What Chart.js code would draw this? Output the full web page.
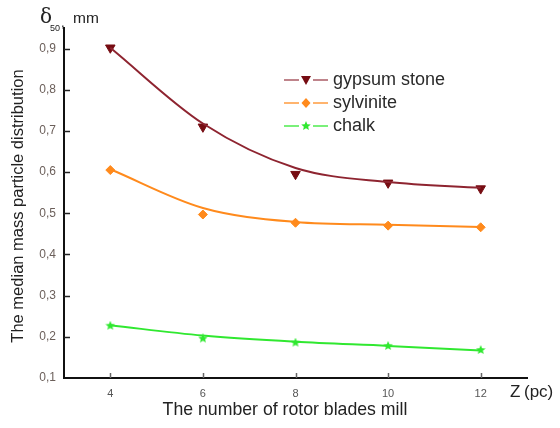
<!DOCTYPE html>
<html>
<head>
<meta charset="utf-8">
<script src="https://cdn.jsdelivr.net/npm/chart.js@4"></script>
<style>
    html, body { margin: 0; padding: 0; background: #fff; }
    #wrap { width: 560px; height: 428px; position: relative; }
</style>
</head>
<body>
<div id="wrap"><canvas id="bladesChart"></canvas></div>
<script>
// number of rotor blades Z
const blades = [4, 6, 8, 10, 12];

// measured median size d50, mm
const gypsumPoints = [0.902, 0.71, 0.595, 0.574, 0.56];
const sylvinitePoints = [0.605, 0.497, 0.477, 0.47, 0.466];
const chalkPoints = [0.227, 0.196, 0.186, 0.178, 0.168];

// smoothed trend curves
const gypsumTrend = [0.902, 0.718, 0.61, 0.576, 0.562];
const sylviniteTrend = [0.607, 0.513, 0.479, 0.472, 0.467];
const chalkTrend = [0.228, 0.203, 0.188, 0.178, 0.167];

const yTicks = [0.1, 0.2, 0.3, 0.4, 0.5, 0.6, 0.7, 0.8, 0.9];

const seriesNames = ['gypsum stone', 'sylvinite', 'chalk'];
const colors = {
    gypsumLine: '#8e2430',
    gypsumMark: '#760c12',
    sylvinite: '#ff8a1c',
    chalk: '#30e830'
};

const FONT = '"Liberation Sans", Arial, sans-serif';

const pairs = (ys) => blades.map((x, i) => ({ x: x, y: ys[i] }));

// filled five point star for the chalk markers
const makeStar = (size, color) => {
    const c = document.createElement('canvas');
    c.width = size; c.height = size;
    const g = c.getContext('2d');
    const r = size / 2, ri = r * 0.45;
    g.beginPath();
    for (let i = 0; i < 10; i++) {
        const a = -Math.PI / 2 + i * Math.PI / 5;
        const rr = i % 2 ? ri : r;
        g.lineTo(r + rr * Math.cos(a), r + rr * Math.sin(a));
    }
    g.closePath();
    g.fillStyle = color;
    g.fill();
    return c;
};
const chalkStar = makeStar(10, colors.chalk);

const trendSet = (data, color) => ({
    data: pairs(data),
    borderColor: color,
    borderWidth: 2,
    pointRadius: 0,
    cubicInterpolationMode: 'monotone',
    fill: false
});

const markSet = (data, color, style, radius, rotation) => ({
    data: pairs(data),
    showLine: false,
    pointStyle: style,
    pointRadius: radius,
    pointRotation: rotation || 0,
    backgroundColor: color,
    borderColor: color,
    borderWidth: 1
});

// inward tick marks on both axes
const innerTicks = {
    id: 'innerTicks',
    afterDatasetsDraw(chart) {
        const { ctx, scales: { x, y } } = chart;
        ctx.save();
        ctx.strokeStyle = '#222';
        ctx.lineWidth = 1.5;
        yTicks.slice(1).forEach(v => {
            const py = Math.round(y.getPixelForValue(v)) + 0.5;
            ctx.beginPath();
            ctx.moveTo(x.left, py);
            ctx.lineTo(x.left + 6, py);
            ctx.stroke();
        });
        ctx.strokeStyle = '#666';
        blades.forEach(v => {
            const px = Math.round(x.getPixelForValue(v)) + 0.5;
            ctx.beginPath();
            ctx.moveTo(px, y.bottom);
            ctx.lineTo(px, y.bottom - 5);
            ctx.stroke();
        });
        ctx.restore();
    }
};

// axis captions and the legend box
const captions = {
    id: 'captions',
    afterDraw(chart) {
        const { ctx } = chart;
        ctx.save();
        ctx.fillStyle = '#222';
        ctx.textBaseline = 'middle';

        // y caption
        ctx.font = '16.5px ' + FONT;
        ctx.textAlign = 'center';
        ctx.save();
        ctx.translate(18, 206);
        ctx.rotate(-Math.PI / 2);
        ctx.fillText('The median mass particle distribution', 0, 0);
        ctx.restore();

        // x caption
        ctx.font = '17.7px ' + FONT;
        ctx.fillText('The number of rotor blades mill', 285, 410);

        ctx.textAlign = 'left';
        ctx.font = '17px ' + FONT;
        ctx.fillText('Z', 510, 392);
        ctx.fillText('(pc)', 524, 392);

        // delta-50 unit label
        ctx.font = '20px "DejaVu Serif", serif';
        ctx.fillText('δ', 40, 18);
        ctx.font = '9px ' + FONT;
        ctx.fillText('50', 50, 29);
        ctx.textBaseline = 'alphabetic';
        ctx.font = '13px ' + FONT;
        ctx.fillText(',', 61, 27);
        ctx.textBaseline = 'middle';
        ctx.font = '15.5px ' + FONT;
        ctx.fillText('mm', 73, 19);

        // legend
        const rows = [80, 103, 126];
        const lineCols = [colors.gypsumLine, colors.sylvinite, colors.chalk];
        ctx.font = '18px ' + FONT;
        rows.forEach((ry, i) => {
            ctx.strokeStyle = lineCols[i];
            ctx.globalAlpha = i === 0 ? 0.75 : 0.85;
            ctx.lineWidth = 1.6;
            ctx.beginPath();
            ctx.moveTo(284, ry); ctx.lineTo(299, ry);
            ctx.moveTo(313, ry); ctx.lineTo(328, ry);
            ctx.stroke();
            ctx.globalAlpha = 1;
            if (i === 0) {
                ctx.fillStyle = colors.gypsumMark;
                ctx.beginPath();
                ctx.moveTo(301, ry - 4);
                ctx.lineTo(311, ry - 4);
                ctx.lineTo(306, ry + 5);
                ctx.closePath();
                ctx.fill();
            } else if (i === 1) {
                ctx.fillStyle = colors.sylvinite;
                ctx.beginPath();
                ctx.moveTo(306, ry - 5);
                ctx.lineTo(310.5, ry);
                ctx.lineTo(306, ry + 5);
                ctx.lineTo(301.5, ry);
                ctx.closePath();
                ctx.fill();
            } else {
                ctx.drawImage(chalkStar, 301, ry - 5);
            }
            ctx.fillStyle = '#2a2a2a';
            ctx.fillText(seriesNames[i], 333, ry);
        });
        ctx.restore();
    }
};

const ctx = document.getElementById('bladesChart').getContext('2d');
const bladesChart = new Chart(ctx, {
    type: 'line',
    data: {
        datasets: [
            trendSet(gypsumTrend, colors.gypsumLine),
            trendSet(sylviniteTrend, colors.sylvinite),
            trendSet(chalkTrend, colors.chalk),
            markSet(gypsumPoints, colors.gypsumMark, 'triangle', 5.5, 180),
            markSet(sylvinitePoints, colors.sylvinite, 'rectRot', 4.5),
            markSet(chalkPoints, chalkStar, chalkStar, 5)
        ]
    },
    options: {
        responsive: true,
        maintainAspectRatio: false,
        animation: false,
        layout: {
            padding: { top: 28, right: 33, left: 0, bottom: 0 }
        },
        scales: {
            x: {
                type: 'linear',
                min: 3,
                max: 13,
                afterBuildTicks: (scale) => {
                    scale.ticks = blades.map(v => ({ value: v }));
                },
                afterFit: (scale) => { scale.height = 50; },
                grid: { color: 'transparent', drawTicks: false },
                border: { color: '#111', width: 2 },
                ticks: {
                    padding: 9,
                    color: '#555',
                    font: { family: FONT, size: 11 }
                }
            },
            y: {
                min: 0.1,
                max: 0.95,
                afterBuildTicks: (scale) => {
                    scale.ticks = yTicks.map(v => ({ value: v }));
                },
                afterFit: (scale) => { scale.width = 64; },
                grid: { color: 'transparent', drawTicks: false },
                border: { color: '#111', width: 2 },
                ticks: {
                    padding: 8,
                    color: '#6b5f5a',
                    font: { family: FONT, size: 12 },
                    callback: (v) => v.toFixed(1).replace('.', ',')
                }
            }
        },
        plugins: {
            legend: { display: false },
            tooltip: { enabled: false }
        }
    },
    plugins: [innerTicks, captions]
});
</script>
</body>
</html>
